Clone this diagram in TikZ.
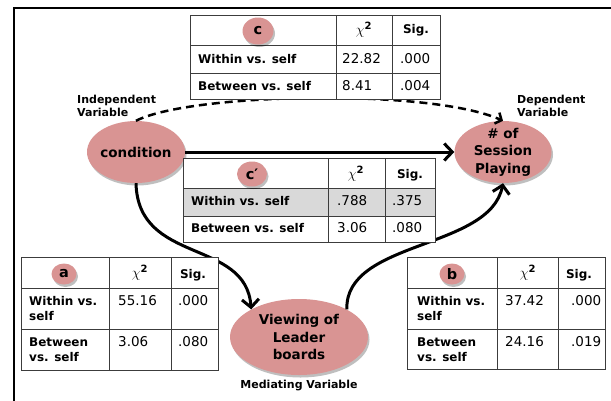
\documentclass[tikz,border=0pt]{standalone}
\usepackage{fontspec}
\setmainfont{DejaVu Sans}
\usetikzlibrary{shapes.geometric,arrows.meta,shadows}
\definecolor{blobpink}{RGB}{217,148,147}
\definecolor{gridc}{RGB}{60,60,60}
\definecolor{shadec}{RGB}{217,217,217}
\newcommand{\chisq}{$\chi^{\hbox{\bfseries\fontsize{10}{10}\selectfont 2}}$}
\tikzset{
  shad/.style={drop shadow={opacity=0.25, shadow xshift=1.5pt, shadow yshift=-2.5pt, fill=black}},
  blob/.style={ellipse, fill=blobpink, inner sep=0pt, shad},
  blobtext/.style={align=center, font=\bfseries\fontsize{13.5}{17.5}\selectfont, inner sep=0pt},
  letter/.style={ellipse, fill=blobpink, inner sep=0pt, font=\bfseries\fontsize{14.5}{14}\selectfont, shad},
  lab/.style={anchor=west, font=\bfseries\fontsize{12}{15}\selectfont, inner sep=0pt},
  num/.style={anchor=west, font=\fontsize{13.5}{15}\selectfont, inner sep=0pt},
  hdr/.style={font=\bfseries\fontsize{12}{15}\selectfont, inner sep=0pt},
  chi/.style={font=\fontsize{14}{16}\selectfont, inner sep=0pt},
  grid/.style={draw=gridc, line width=1pt},
  arr/.style={line width=3pt, -{Straight Barb[length=8pt,width=17pt]}},
  darr/.style={line width=2.5pt, dash pattern=on 8pt off 5pt, -{Straight Barb[length=5pt,width=12pt]}},
  varlab/.style={font=\bfseries\fontsize{11}{13}\selectfont, align=left, inner sep=0pt},
}
\begin{document}
\begin{tikzpicture}[x=1pt,y=-1pt]
\useasboundingbox (0,0) rectangle (611,400);
% frame
\draw[line width=2.5pt, line join=miter] (14,401) -- (14,8) -- (612,8);

% ellipses
\node[blob, minimum width=98pt, minimum height=62pt] (cond) at (136,152) {};
\node[blob, minimum width=97pt, minimum height=62pt] (sess) at (503,152) {};
\node[blob, minimum width=138pt, minimum height=76pt] (view) at (299,337) {};

% arrows
\draw[darr] (cond.north) .. controls (190,93) and (430,88) .. (sess.north);
\draw[arr] (cond.east) -- (sess.west);
\draw[arr] (cond.south) .. controls (138,265) and (246,238) .. (view.150);
\draw[arr] (view.30) .. controls (345,240) and (490,250) .. (sess.south);

% ellipse texts
\node[blobtext] (condt) at (cond) {condition};
\node[blobtext] (sesst) at (sess) {\# of\\Session\\Playing};
\node[blobtext] (viewt) at (view) {Viewing of\\Leader\\boards};

% variable labels
\node[varlab, anchor=north west] (iv) at (77,95) {Independent\\Variable};
\node[varlab, anchor=north west] (dv) at (517,95) {Dependent\\Variable};
\node[varlab] (mv) at (299,386) {Mediating Variable};

% table c
\draw[grid, fill=white] (190,15) rectangle (440,99);
\draw[grid] (190,45) -- (440,45) (190,73) -- (440,73) (336,15) -- (336,99) (392,15) -- (392,99);
\node[letter, minimum width=31pt, minimum height=27pt] (lc) at (258,31) {c};
\node[chi] (hc1) at (364,30) {\chisq};
\node[hdr] (hc2) at (416,30) {Sig.};
\node[lab] (c1) at (198,59) {Within vs. self};
\node[num] (c2) at (342,59) {22.82};
\node[num] (c3) at (400,59) {.000};
\node[lab] (c4) at (198,86) {Between vs. self};
\node[num] (c5) at (342,86) {8.41};
\node[num] (c6) at (400,86) {.004};

% table c'
\fill[white] (183,158) rectangle (435,242);
\fill[shadec] (183,188) rectangle (435,216);
\draw[grid] (183,158) rectangle (435,242);
\draw[grid] (183,188) -- (435,188) (183,216) -- (435,216) (328,158) -- (328,242) (385,158) -- (385,242);
\node[letter, minimum width=30pt, minimum height=25pt] (lcp) at (252,174) {c′};
\node[chi] (hcp1) at (356,174) {\chisq};
\node[hdr] (hcp2) at (410,175) {Sig.};
\node[lab] (cp1) at (191,201) {Within vs. self};
\node[num] (cp2) at (337,201) {.788};
\node[num] (cp3) at (392,201) {.375};
\node[lab] (cp4) at (191,228) {Between vs. self};
\node[num] (cp5) at (337,228) {3.06};
\node[num] (cp6) at (392,228) {.080};

% table a
\draw[grid, fill=white] (21,257) rectangle (218,370);
\draw[grid] (21,288) -- (218,288) (21,329) -- (218,329) (109,257) -- (109,370) (171,257) -- (171,370);
\node[letter, minimum width=25pt, minimum height=21pt] (la) at (64,274) {a};
\node[chi] (ha1) at (140,273) {\chisq};
\node[hdr] (ha2) at (193,275) {Sig.};
\node[lab] (a1) at (29,301) {Within vs.};
\node[lab] (a1b) at (29,316) {self};
\node[num] (a2) at (118,301) {55.16};
\node[num] (a3) at (178,301) {.000};
\node[lab] (a4) at (29,342) {Between};
\node[lab] (a4b) at (29,357) {vs. self};
\node[num] (a5) at (118,342) {3.06};
\node[num] (a6) at (178,342) {.080};

% table b
\draw[grid, fill=white] (407,257) rectangle (605,369);
\draw[grid] (407,288) -- (605,288) (407,329) -- (605,329) (497,257) -- (497,369) (558,257) -- (558,369);
\node[letter, minimum width=25pt, minimum height=21pt] (lb) at (452,274) {b};
\node[chi] (hb1) at (528,273) {\chisq};
\node[hdr] (hb2) at (579,275) {Sig.};
\node[lab] (b1) at (417,301) {Within vs.};
\node[lab] (b1b) at (417,316) {self};
\node[num] (b2) at (505,301) {37.42};
\node[num] (b3) at (571,301) {.000};
\node[lab] (b4) at (417,342) {Between};
\node[lab] (b4b) at (417,357) {vs. self};
\node[num] (b5) at (505,342) {24.16};
\node[num] (b6) at (571,342) {.019};
\end{tikzpicture}
\end{document}
